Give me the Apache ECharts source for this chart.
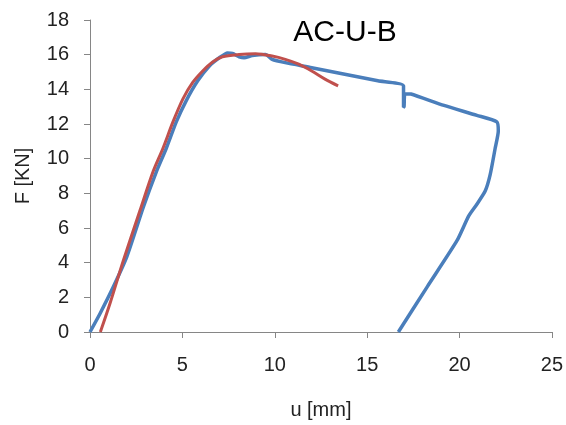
<!DOCTYPE html>
<html><head><meta charset="utf-8">
<script src="https://cdn.jsdelivr.net/npm/echarts@6/dist/echarts.min.js"></script>
<style>html,body{margin:0;padding:0;background:#fff}#c{width:566px;height:425px}</style>
</head><body><div id="c"></div>
<script>
const title = "AC-U-B";
const xName = "u [mm]";
const yName = "F [KN]";
const blueU = [0, 0.56, 1.27, 1.99, 2.88, 3.6, 4.13, 4.67, 5.21, 5.83, 6.46, 7.0, 7.44, 7.71, 8.07, 8.34, 8.78, 9.5, 9.86, 10.57, 12.0, 13.79, 15.58, 16.97, 16.97, 17.0, 17.05, 17.37, 19.16, 20.94, 22.02, 22.1, 21.93, 21.66, 21.39, 20.94, 20.5, 19.87, 18.26, 16.69];
const blueF = [0, 1.1, 2.62, 4.33, 7.18, 9.27, 10.6, 12.12, 13.35, 14.49, 15.35, 15.82, 16.1, 16.07, 15.88, 15.82, 15.95, 16.01, 15.73, 15.54, 15.25, 14.87, 14.49, 14.2, 12.97, 13.0, 13.75, 13.73, 13.07, 12.5, 12.12, 11.6, 10.6, 9.08, 8.13, 7.37, 6.7, 5.28, 2.62, 0];
const redU = [0.56, 1.09, 1.81, 2.7, 3.42, 3.95, 4.49, 5.03, 5.56, 6.1, 6.64, 7.17, 8.07, 8.96, 9.86, 10.57, 11.3, 12.0, 12.72, 13.43];
const redF = [0, 1.67, 4.14, 6.99, 9.27, 10.6, 12.12, 13.45, 14.4, 15.06, 15.58, 15.88, 16.01, 16.05, 15.92, 15.73, 15.45, 15.06, 14.59, 14.2];

const zip = (a, b) => a.map((v, i) => [v, b[i]]);
const FONT = 'Liberation Sans, Arial, sans-serif';
const chart = echarts.init(document.getElementById('c'));
const axisLine = {show: true, lineStyle: {color: '#868686', width: 1}};
const axisTick = {show: true, inside: false, length: 6, lineStyle: {color: '#868686'}};
const nameStyle = {color: '#222', fontFamily: FONT, fontSize: 20};
chart.setOption({
  animation: false,
  backgroundColor: '#fff',
  title: {text: title, left: 340, top: 13, textAlign: 'center',
    textStyle: {fontFamily: FONT, fontSize: 30, fontWeight: 'normal', color: '#000'}},
  grid: {left: 90, right: 10, top: 20, bottom: 89},
  xAxis: {type: 'value', min: 0, max: 25, interval: 5, name: xName,
    nameLocation: 'middle', nameGap: 68, nameTextStyle: nameStyle,
    axisLine, axisTick, splitLine: {show: false},
    axisLabel: {color: '#222', fontFamily: FONT, fontSize: 20, margin: 23}},
  yAxis: {type: 'value', min: 0, max: 18, interval: 2, name: yName,
    nameLocation: 'middle', nameGap: 57, nameRotate: 90, nameTextStyle: nameStyle,
    axisLine, axisTick, splitLine: {show: false},
    axisLabel: {color: '#222', fontFamily: FONT, fontSize: 20, margin: 21}},
  series: [
    {type: 'line', data: zip(blueU, blueF), showSymbol: false, smooth: 0.2,
      lineStyle: {color: '#4a7ebb', width: 3.5}},
    {type: 'line', data: zip(redU, redF), showSymbol: false, smooth: 0.3,
      lineStyle: {color: '#c0504d', width: 3}}
  ]
});
</script></body></html>
